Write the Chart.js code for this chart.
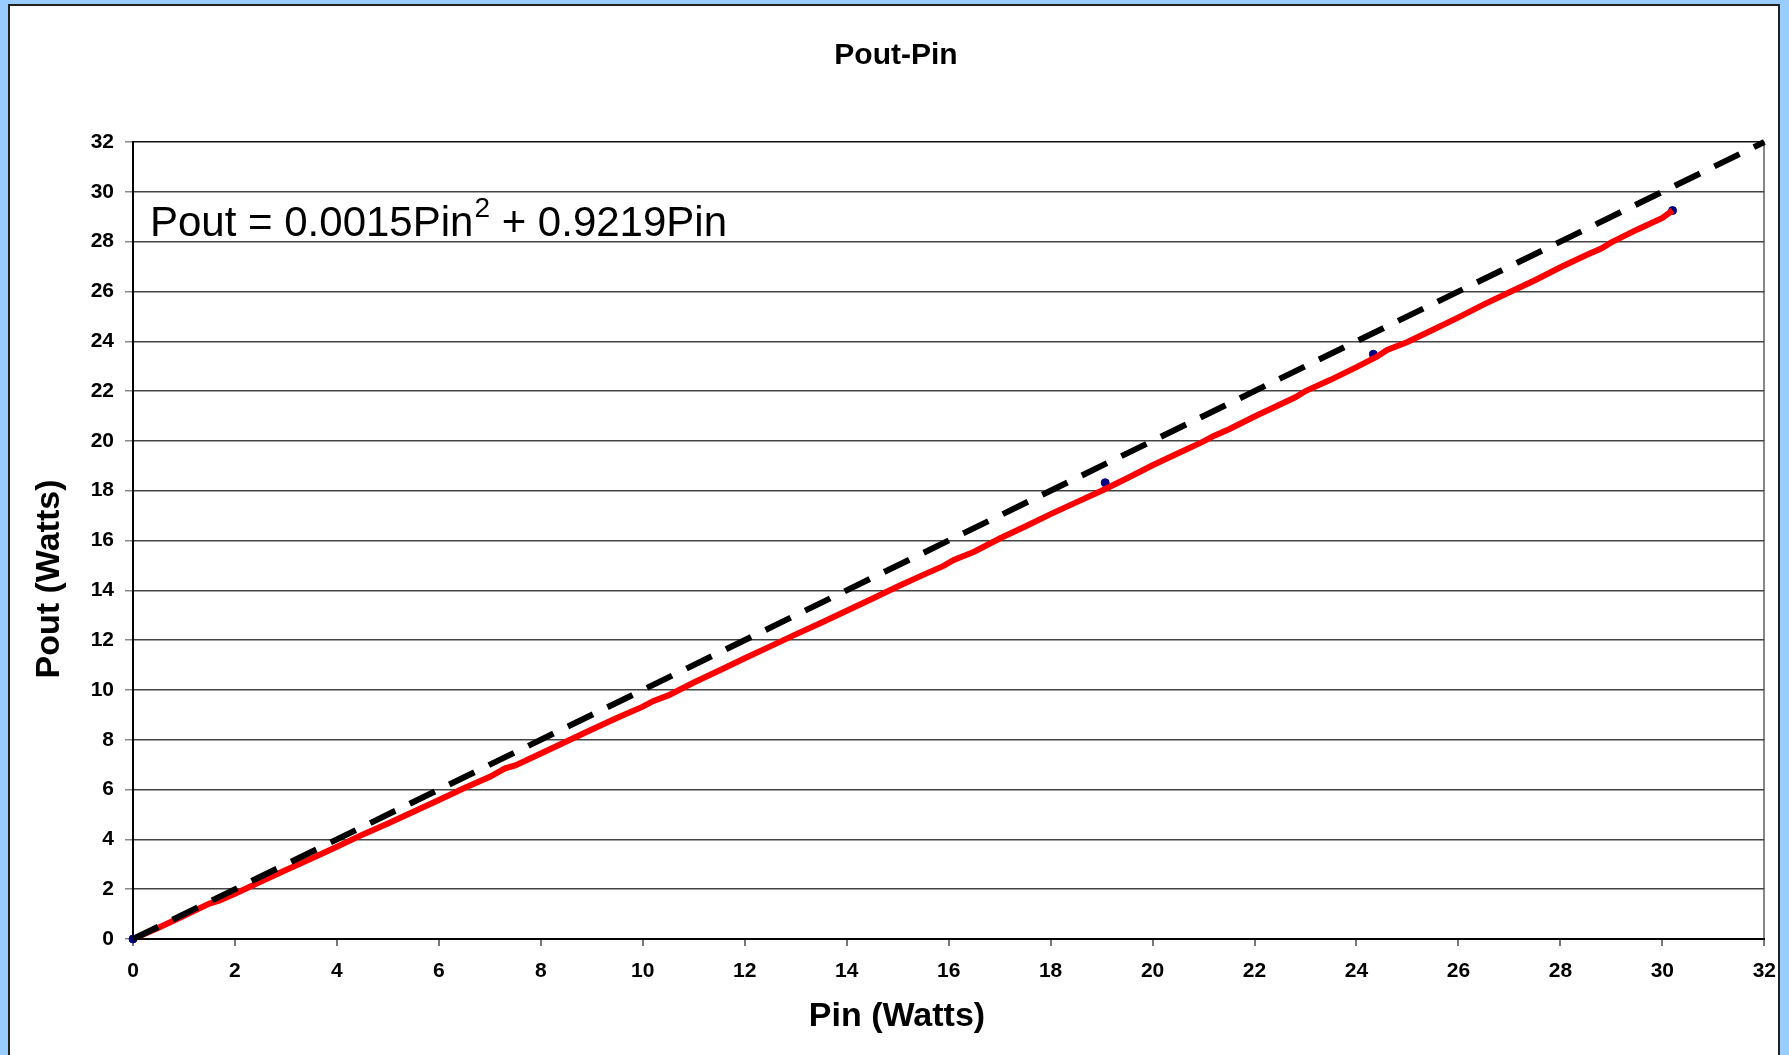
<!DOCTYPE html>
<html>
<head>
<meta charset="utf-8">
<title>Pout-Pin</title>
<script src="https://cdn.jsdelivr.net/npm/chart.js@4.4.1/dist/chart.umd.min.js"></script>
<style>
  html, body { margin: 0; padding: 0; }
  body { width: 1789px; height: 1055px; background: #99ccff; overflow: hidden; position: relative; }
  .panel { position: absolute; left: 8px; top: 4px; width: 1768px; height: 1070px; background: #fff; border: 2px solid #222; }
  #chart { position: absolute; left: 0; top: 0; }
</style>
</head>
<body>
<div class="panel"></div>
<canvas id="chart" width="1789" height="1055"></canvas>
<script>
const pinValues = [0, 0.5, 1, 1.5, 1.7, 2, 2.5, 3, 3.5, 4, 4.5, 5, 5.5, 6, 6.5, 7, 7.3, 7.5, 8, 8.5,
  9, 9.5, 10, 10.2, 10.5, 11, 11.5, 12, 12.5, 13, 13.5, 14, 14.5, 15, 15.5, 15.9, 16.1, 16.5, 17, 17.5,
  18, 18.5, 19, 19.2, 19.5, 20, 20.5, 21, 21.2, 21.5, 22, 22.5, 22.8, 23, 23.5, 24, 24.4, 24.6, 25, 25.5,
  26, 26.5, 27, 27.5, 28, 28.5, 28.8, 29, 29.5, 30, 30.2];
const poutValues = [0, 0.45, 0.93, 1.42, 1.55, 1.82, 2.30, 2.77, 3.23, 3.70, 4.19, 4.64, 5.11, 5.58, 6.06, 6.51, 6.85, 6.97, 7.45, 7.93,
  8.41, 8.88, 9.33, 9.55, 9.78, 10.30, 10.78, 11.27, 11.75, 12.23, 12.70, 13.18, 13.66, 14.15, 14.62, 14.98, 15.22, 15.55, 16.08, 16.56,
  17.06, 17.53, 18.00, 18.20, 18.50, 19.02, 19.50, 19.98, 20.20, 20.47, 20.98, 21.46, 21.75, 22.00, 22.46, 22.96, 23.38, 23.65, 23.97, 24.46,
  24.96, 25.48, 25.97, 26.45, 26.97, 27.45, 27.72, 27.97, 28.48, 28.95, 29.25];

// the few marked sample points (blue)
const samplePin = [0, 19.07, 24.33, 30.2];
const samplePout = [0, 18.32, 23.48, 29.25];

// Pout = Pin reference line end points
const refPin = [0, 32];
const refPout = [0, 32];

const axisMin = 0;
const axisMax = 32;
const axisStep = 2;

const toPoints = (xs, ys) => xs.map((x, i) => ({ x: x, y: ys[i] }));

// titles and the fitted equation
const textPlugin = {
  id: 'texts',
  afterDraw(chart) {
    const c = chart.ctx;
    c.save();
    c.fillStyle = '#000';
    c.textAlign = 'center';
    c.textBaseline = 'middle';
    c.font = 'bold 30px "Liberation Sans", Arial, sans-serif';
    c.fillText('Pout-Pin', 896, 56);
    c.font = 'bold 34px "Liberation Sans", Arial, sans-serif';
    c.fillText('Pin (Watts)', 897, 1017);
    c.translate(50, 579);
    c.rotate(-Math.PI / 2);
    c.fillText('Pout (Watts)', 0, 0);
    c.restore();

    // equation with a superscript
    c.save();
    c.fillStyle = '#000';
    c.textAlign = 'left';
    c.textBaseline = 'alphabetic';
    let x = 150;
    const base = 236;
    c.font = '42px "Liberation Sans", Arial, sans-serif';
    const a = 'Pout = 0.0015Pin';
    c.fillText(a, x, base);
    x += c.measureText(a).width;
    c.font = '28px "Liberation Sans", Arial, sans-serif';
    c.fillText('2', x + 1, base - 19);
    x += c.measureText('2').width + 1;
    c.font = '42px "Liberation Sans", Arial, sans-serif';
    c.fillText(' + 0.9219Pin', x, base);
    c.restore();
  }
};

const tickFont = { family: '"Liberation Sans", Arial, sans-serif', size: 21, weight: 'bold' };

new Chart(document.getElementById('chart'), {
  type: 'scatter',
  data: {
    datasets: [
      {
        label: 'Pout = Pin',
        data: toPoints(refPin, refPout),
        showLine: true,
        borderColor: '#000',
        borderWidth: 6,
        borderDash: [28, 16],
        pointRadius: 0,
        clip: 8
      },
      {
        label: 'Pout',
        data: toPoints(pinValues, poutValues),
        showLine: true,
        borderColor: '#ff0000',
        borderWidth: 6,
        pointRadius: 0,
        tension: 0
      },
      {
        label: 'samples',
        data: toPoints(samplePin, samplePout),
        showLine: false,
        backgroundColor: '#000080',
        borderColor: '#000080',
        pointRadius: 4,
        clip: 8
      }
    ]
  },
  options: {
    responsive: false,
    animation: false,
    layout: { padding: { top: 142, right: 23, left: 0, bottom: 0 } },
    plugins: {
      legend: { display: false },
      tooltip: { enabled: false },
      title: { display: false }
    },
    scales: {
      x: {
        type: 'linear',
        min: axisMin,
        max: axisMax,
        afterFit: (scale) => { scale.height = 116; },
        ticks: { stepSize: axisStep, color: '#000', font: tickFont, padding: 13, maxRotation: 0 },
        grid: {
          color: (ctx) => (ctx.tick && ctx.tick.value === axisMax ? '#888' : 'rgba(0,0,0,0)'),
          tickColor: '#777',
          tickLength: 7,
          lineWidth: 2
        },
        border: { display: true, color: '#000', width: 2 }
      },
      y: {
        type: 'linear',
        min: axisMin,
        max: axisMax,
        afterFit: (scale) => { scale.width = 133; },
        ticks: { stepSize: axisStep, color: '#000', font: tickFont, padding: 11 },
        grid: {
          color: (ctx) => (ctx.tick && ctx.tick.value === axisMax ? '#111' : '#444'),
          tickColor: '#888',
          tickLength: 8,
          lineWidth: 1.5
        },
        border: { display: true, color: '#000', width: 2 }
      }
    }
  },
  plugins: [textPlugin]
});
</script>
</body>
</html>
